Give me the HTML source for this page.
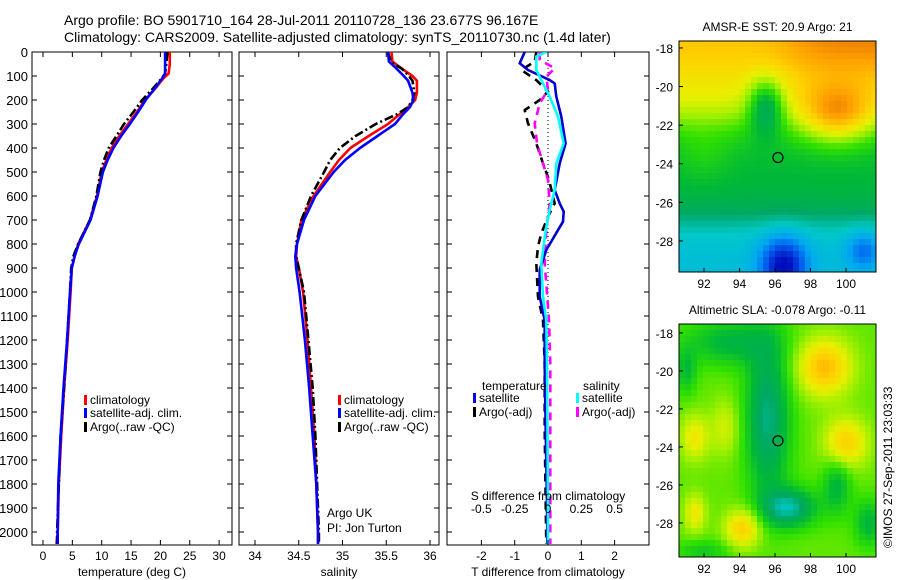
<!DOCTYPE html>
<html><head><meta charset="utf-8">
<style>
html,body{margin:0;padding:0;background:#fff;}
svg{display:block;font-family:"Liberation Sans",sans-serif;}
text{fill:#000;}
</style></head>
<body>
<svg id="fig" width="900" height="580" viewBox="0 0 900 580">
<text x="64" y="25" font-size="14">Argo profile: BO 5901710_164 28-Jul-2011 20110728_136 23.677S 96.167E</text>
<text x="64" y="42" font-size="14">Climatology: CARS2009. Satellite-adjusted climatology: synTS_20110730.nc (1.4d later)</text>
<g id="p1"></g>
<g id="p2"></g>
<g id="p3"></g>
<g id="m1"></g>
<g id="m2"></g>
<text x="0" y="0" font-size="12" transform="translate(892,548) rotate(-90)">©IMOS 27-Sep-2011 23:03:33</text>
</svg>
<script>
// ---- data ----
const tempDepth = [0,50,90,110,150,200,250,300,350,400,450,500,600,700,800,850,900,1000,1200,1400,1600,1800,2000,2050];
const tempClim  = [21.6,21.6,21.4,20.5,19.2,17.4,16,14.5,13,11.7,10.8,10,9.2,8,6,5.4,4.9,4.7,4.2,3.6,3.1,2.7,2.5,2.3];
const tempSat   = [20.8,20.8,20.8,20.3,19.1,17.5,16.2,14.8,13.3,12.0,11.0,10.2,9.3,8.1,6.1,5.4,4.9,4.6,4.1,3.5,3.0,2.6,2.5,2.5];
const tempArgo  = [21.2,21.0,20.8,20.2,18.8,16.9,15.4,13.8,12.5,11.2,10.4,9.8,9.1,8.0,6.0,5.2,4.8,4.6,4.1,3.6,3.0,2.7,2.4,2.4];
const salDepth = [0,40,70,100,120,170,200,230,260,300,350,400,450,500,600,700,800,850,900,1000,1200,1400,1600,1800,2000,2050];
const salClim  = [35.56,35.57,35.68,35.8,35.85,35.85,35.83,35.75,35.65,35.52,35.3,35.09,34.96,34.86,34.67,34.53,34.48,34.47,34.5,34.55,34.6,34.64,34.68,34.7,34.72,34.72];
const salSat   = [35.52,35.53,35.62,35.7,35.75,35.8,35.81,35.77,35.69,35.6,35.4,35.2,35.03,34.9,34.69,34.56,34.48,34.46,34.47,34.51,34.57,34.62,34.66,34.7,34.72,34.72];
const salArgo  = [35.52,35.55,35.68,35.76,35.8,35.82,35.8,35.75,35.62,35.38,35.15,34.97,34.86,34.79,34.64,34.53,34.47,34.47,34.5,34.56,34.61,34.66,34.69,34.71,34.73,34.73];
const dTSatDepth = [0,47,75,117,131,186,269,381,464,575,631,665,707,742,825,908,1019,1117,1297,1575,1881,2050];
const dTSat      = [-0.7,-0.85,-0.6,0.05,0.2,0.25,0.4,0.53,0.35,0.2,0.35,0.47,0.45,0.3,-0.05,-0.25,-0.25,-0.1,-0.1,-0.07,-0.03,-0.02];
const dSSatDepth = [0,19,75,117,186,269,381,464,575,658,742,881,1019,1117,1297,1881,2050];
const dSSat      = [-0.0125,-0.0875,-0.0875,-0.05,0.0125,0.075,0.1175,0.0625,0.05,0.0125,-0.0175,-0.05,-0.0375,-0.0125,-0.0075,0,0];
const dTArgoDepth = [0,40,75,117,165,200,242,297,381,464,533,631,686,756,811,881,1019,1117,1297,1575,1881,2050];
const dTArgo      = [-0.35,-0.4,-0.8,-0.35,0,-0.25,-0.7,-0.6,-0.35,-0.15,0.03,0.2,0,-0.2,-0.3,-0.35,-0.3,-0.15,-0.1,-0.1,-0.07,-0.05];
const dSArgoDepth = [0,33,68,103,158,214,297,381,464,533,631,742,881,1117,1297,1881,2050];
const dSArgo      = [-0.0625,-0.0625,0.05,-0.0125,0,-0.0625,-0.1,-0.0825,-0.0375,0,0.0125,-0.0125,-0.025,0.0075,0.0175,0.0175,0.0175];
const depthTicks = [0,100,200,300,400,500,600,700,800,900,1000,1100,1200,1300,1400,1500,1600,1700,1800,1900,2000];
const tempTicks = [0,5,10,15,20,25,30];
const salTicks = [34,34.5,35,35.5,36];
const salTickLabels = ['34','34.5','35','35.5','36'];
const dTTicks = [-2,-1,0,1,2];
const dSTicks = [-0.5,-0.25,0,0.25,0.5];
const dSTickLabels = ['-0.5','-0.25','0','0.25','0.5'];
const latTicks = [-18,-20,-22,-24,-26,-28];
const lonTicks = [92,94,96,98,100];
const argoLon = 96.167, argoLat = -23.677;

// ---- scales ----
const TOP=52, BOT=545;
const yD = d => TOP + d*0.24;
const x1 = t => 43 + t*5.87;
const x2 = s => 255 + (s-34)*87.5;
const x3T = t => 548 + t*33.3;
const x3S = s => 548 + s*133.2;

const NS='http://www.w3.org/2000/svg';
function mk(tag, attrs, parent){const e=document.createElementNS(NS,tag);for(const k in attrs)e.setAttribute(k,attrs[k]);parent.appendChild(e);return e;}
function txt(parent,x,y,s,anchor,size){const e=mk('text',{x:x,y:y,'font-size':size||12,'text-anchor':anchor||'start'},parent);e.textContent=s;return e;}
function pathFrom(xs,ds,fx){return xs.map((v,i)=>(i?'L':'M')+fx(v).toFixed(1)+','+yD(ds[i]).toFixed(1)).join(' ');}
const svg=document.getElementById('fig');
const defs=mk('defs',{},svg);

function panel(g,id,L,R){
  const cp=mk('clipPath',{id:id},defs);mk('rect',{x:L,y:TOP,width:R-L,height:BOT-TOP},cp);
  const box=mk('rect',{x:L,y:TOP,width:R-L,height:BOT-TOP,fill:'none',stroke:'#000','stroke-width':1},g);
  
  
  depthTicks.forEach(d=>{
    const t1=mk('line',{x1:L,x2:L+5,y1:yD(d),y2:yD(d),stroke:'#000'},g);
    
    
    const t2=mk('line',{x1:R,x2:R-5,y1:yD(d),y2:yD(d),stroke:'#000'},g);
    
    
  });
  return mk('g',{'clip-path':'url(#'+id+')'},g);
}
function xtick(g,x){
  const a=mk('line',{x1:x,x2:x,y1:BOT,y2:BOT-5,stroke:'#000'},g);
  
  
  const b=mk('line',{x1:x,x2:x,y1:TOP,y2:TOP+5,stroke:'#000'},g);
  
  
}
function line(g,d,color,dash,name){
  const p=mk('path',{d:d,fill:'none',stroke:color,'stroke-width':2.6,'stroke-linejoin':'round'},g);
  if(dash)p.setAttribute('stroke-dasharray',dash);
  
  
}
function legendRow(g,x,y,color,label){
  const r=mk('rect',{x:x,y:y-9,width:3,height:10,fill:color},g);
  
  
  const t=txt(g,x+6,y,label);
  
  
}

// ---- panel 1 temperature ----
const p1=document.getElementById('p1');
const c1=panel(p1,'cp1',32,232);
depthTicks.forEach(d=>{const t=txt(p1,28,yD(d)+5,String(d),'end',13);
  
  });
tempTicks.forEach(v=>{xtick(p1,x1(v));const t=txt(p1,x1(v),560,String(v),'middle');
  
  });
const tt=txt(p1,132,576,'temperature (deg C)','middle');


line(c1,pathFrom(tempClim,tempDepth,x1),'#f00',null,'temp-climatology-line');
line(c1,pathFrom(tempArgo,tempDepth,x1),'#000','9,3,2,3','temp-argo-line');
line(c1,pathFrom(tempSat,tempDepth,x1),'#00f',null,'temp-satellite-line');
legendRow(p1,84,404,'#f00','climatology');
legendRow(p1,84,417,'#00f','satellite-adj. clim.');
legendRow(p1,84,431,'#000','Argo(..raw -QC)');

// ---- panel 2 salinity ----
const p2=document.getElementById('p2');
const c2=panel(p2,'cp2',239,439);
salTicks.forEach((v,i)=>{xtick(p2,x2(v));const t=txt(p2,x2(v),560,salTickLabels[i],'middle');
  
  });
const st=txt(p2,339,576,'salinity','middle');


line(c2,pathFrom(salClim,salDepth,x2),'#f00',null,'sal-climatology-line');
line(c2,pathFrom(salArgo,salDepth,x2),'#000','9,3,2,3','sal-argo-line');
line(c2,pathFrom(salSat,salDepth,x2),'#00f',null,'sal-satellite-line');
legendRow(p2,338,404,'#f00','climatology');
legendRow(p2,338,417,'#00f','satellite-adj. clim.');
legendRow(p2,338,431,'#000','Argo(..raw -QC)');
const a1=txt(p2,327,517,'Argo UK');
const a2=txt(p2,327,532,'PI: Jon Turton');

// ---- panel 3 differences ----
const p3=document.getElementById('p3');
const c3=panel(p3,'cp3',447,649);
const zl=mk('line',{x1:548,x2:548,y1:TOP,y2:BOT,stroke:'#000','stroke-dasharray':'1,3'},c3);


dTTicks.forEach(v=>{xtick(p3,x3T(v));const t=txt(p3,x3T(v),560,String(v),'middle');
  
  });
dSTicks.forEach((v,i)=>{const t=txt(p3,x3S(v),513,dSTickLabels[i],'middle');
  
  });
const d1=txt(p3,548,500,'S difference from climatology','middle');
const d2=txt(p3,548,576,'T difference from climatology','middle');
line(c3,pathFrom(dTArgo,dTArgoDepth,x3T),'#000','8,6','t-diff-argo-line');
line(c3,pathFrom(dSArgo,dSArgoDepth,x3S),'#f0f','8,6','s-diff-argo-line');
line(c3,pathFrom(dTSat,dTSatDepth,x3T),'#00c','','t-diff-satellite-line');
line(c3,pathFrom(dSSat,dSSatDepth,x3S),'#0ff','','s-diff-satellite-line');
const lt=txt(p3,482,390,'temperature');
const ls=txt(p3,583,390,'salinity');
legendRow(p3,473,402,'#00f','satellite');
legendRow(p3,473,416,'#000','Argo(-adj)');
legendRow(p3,576,402,'#0ff','satellite');
legendRow(p3,576,416,'#f0f','Argo(-adj)');

// ---- maps ----
const stops=[[0,[0,0,138]],[0.12,[0,16,192]],[0.22,[0,96,240]],[0.3,[0,168,240]],[0.38,[0,200,200]],[0.45,[0,168,100]],[0.52,[0,184,56]],[0.6,[48,224,0]],[0.67,[160,240,0]],[0.73,[232,240,0]],[0.8,[255,208,0]],[0.87,[255,160,0]],[0.93,[224,112,0]],[1,[192,64,0]]];
function cmap(v){v=Math.max(0,Math.min(1,v));for(let i=1;i<stops.length;i++){if(v<=stops[i][0]){const a=stops[i-1],b=stops[i],f=(v-a[0])/(b[0]-a[0]);return 'rgb('+a[1].map((c,k)=>Math.round(c+(b[1][k]-c)*f)).join(',')+')';}}return 'rgb(192,64,0)';}
function gs(lo,la,x0,y0,sx,sy){const u=(lo-x0)/sx, w=(la-y0)/sy;return Math.exp(-(u*u)-(w*w));}
function sig(z){return 1/(1+Math.exp(-z));}
function fSST(lo,la){return 0.52+0.24*sig((la+21.8)/0.7)+0.06*sig((la+18.8)/0.5)+0.1*sig((la+19.5)/0.8)*sig((lo-97)/0.8)+0.2*gs(lo,la,99.5,-21.5,2,1.5)-0.22*gs(lo,la,95.5,-21,1.0,1.4)-0.17*sig((-26.8-la)/0.6)-0.25*gs(lo,la,96.5,-29.3,1.3,1.5)-0.12*gs(lo,la,101,-28.5,1,1)+0.04*gs(lo,la,92,-23.5,1.5,1.5);}
function fSLA(lo,la){return 0.63-0.2*gs(lo,la,95.6,-22.5,1.2,4)-0.12*gs(lo,la,93.5,-18.5,2.5,1.2)-0.22*gs(lo,la,96.8,-27.2,1.5,1)-0.12*gs(lo,la,99.5,-26,0.8,1.5)-0.1*gs(lo,la,91,-20,0.6,1.2)-0.12*gs(lo,la,101.3,-28,0.8,1.2)-0.08*gs(lo,la,92,-29.5,1.5,0.6)+0.2*gs(lo,la,98.8,-19.8,1.5,1.5)+0.17*gs(lo,la,100,-23.8,1.2,1.3)+0.17*gs(lo,la,94.2,-28.3,1,1)+0.12*gs(lo,la,91.5,-23.5,0.8,1.2)+0.12*gs(lo,la,91.5,-27.5,0.6,1)+0.08*gs(lo,la,93.2,-23,0.8,1.5);}
function drawMap(gid,mTop,mBot,latTop,pxPerLat,title,field){
  const G=document.getElementById(gid);
  const L=679,R=876,lonL=90.6,pxLon=17.75;
  const lx=lo=>704+(lo-92)*pxLon;
  const ly=la=>mTop+(latTop-la)*pxPerLat;
  const cs=6;
  for(let y=mTop;y<mBot;y+=cs){for(let x=L;x<R;x+=cs){
    const lo=lonL+(x+cs/2-L)/pxLon, la=latTop-(y+cs/2-mTop)/pxPerLat;
    const r=mk('rect',{x:x,y:y,width:Math.min(cs,R-x)+0.3,height:Math.min(cs,mBot-y)+0.3,fill:cmap(field(lo,la))},G);
    
    
  }}
  const fr=mk('rect',{x:L,y:mTop,width:R-L,height:mBot-mTop,fill:'none',stroke:'#000'},G);
  
  
  latTicks.forEach(la=>{const t=txt(G,673,ly(la)+5,String(la),'end');
    
    
    const k=mk('line',{x1:L,x2:L+4,y1:ly(la),y2:ly(la),stroke:'#000'},G);
    
    });
  lonTicks.forEach(lo=>{const t=txt(G,lx(lo),mBot+16,String(lo),'middle');
    
    
    const k=mk('line',{x1:lx(lo),x2:lx(lo),y1:mBot,y2:mBot-4,stroke:'#000'},G);
    
    });
  const c=mk('circle',{cx:lx(argoLon),cy:ly(argoLat),r:5,fill:'none',stroke:'#000','stroke-width':1.2},G);
  
  
  const tl=txt(G,(L+R)/2,mTop-10,title,'middle');
  
  
}
drawMap('m1',41,272,-17.64,19.3,'AMSR-E SST: 20.9 Argo: 21',fSST);
drawMap('m2',324,557,-17.53,19.0,'Altimetric SLA: -0.078 Argo: -0.11',fSLA);
</script>
</body></html>
